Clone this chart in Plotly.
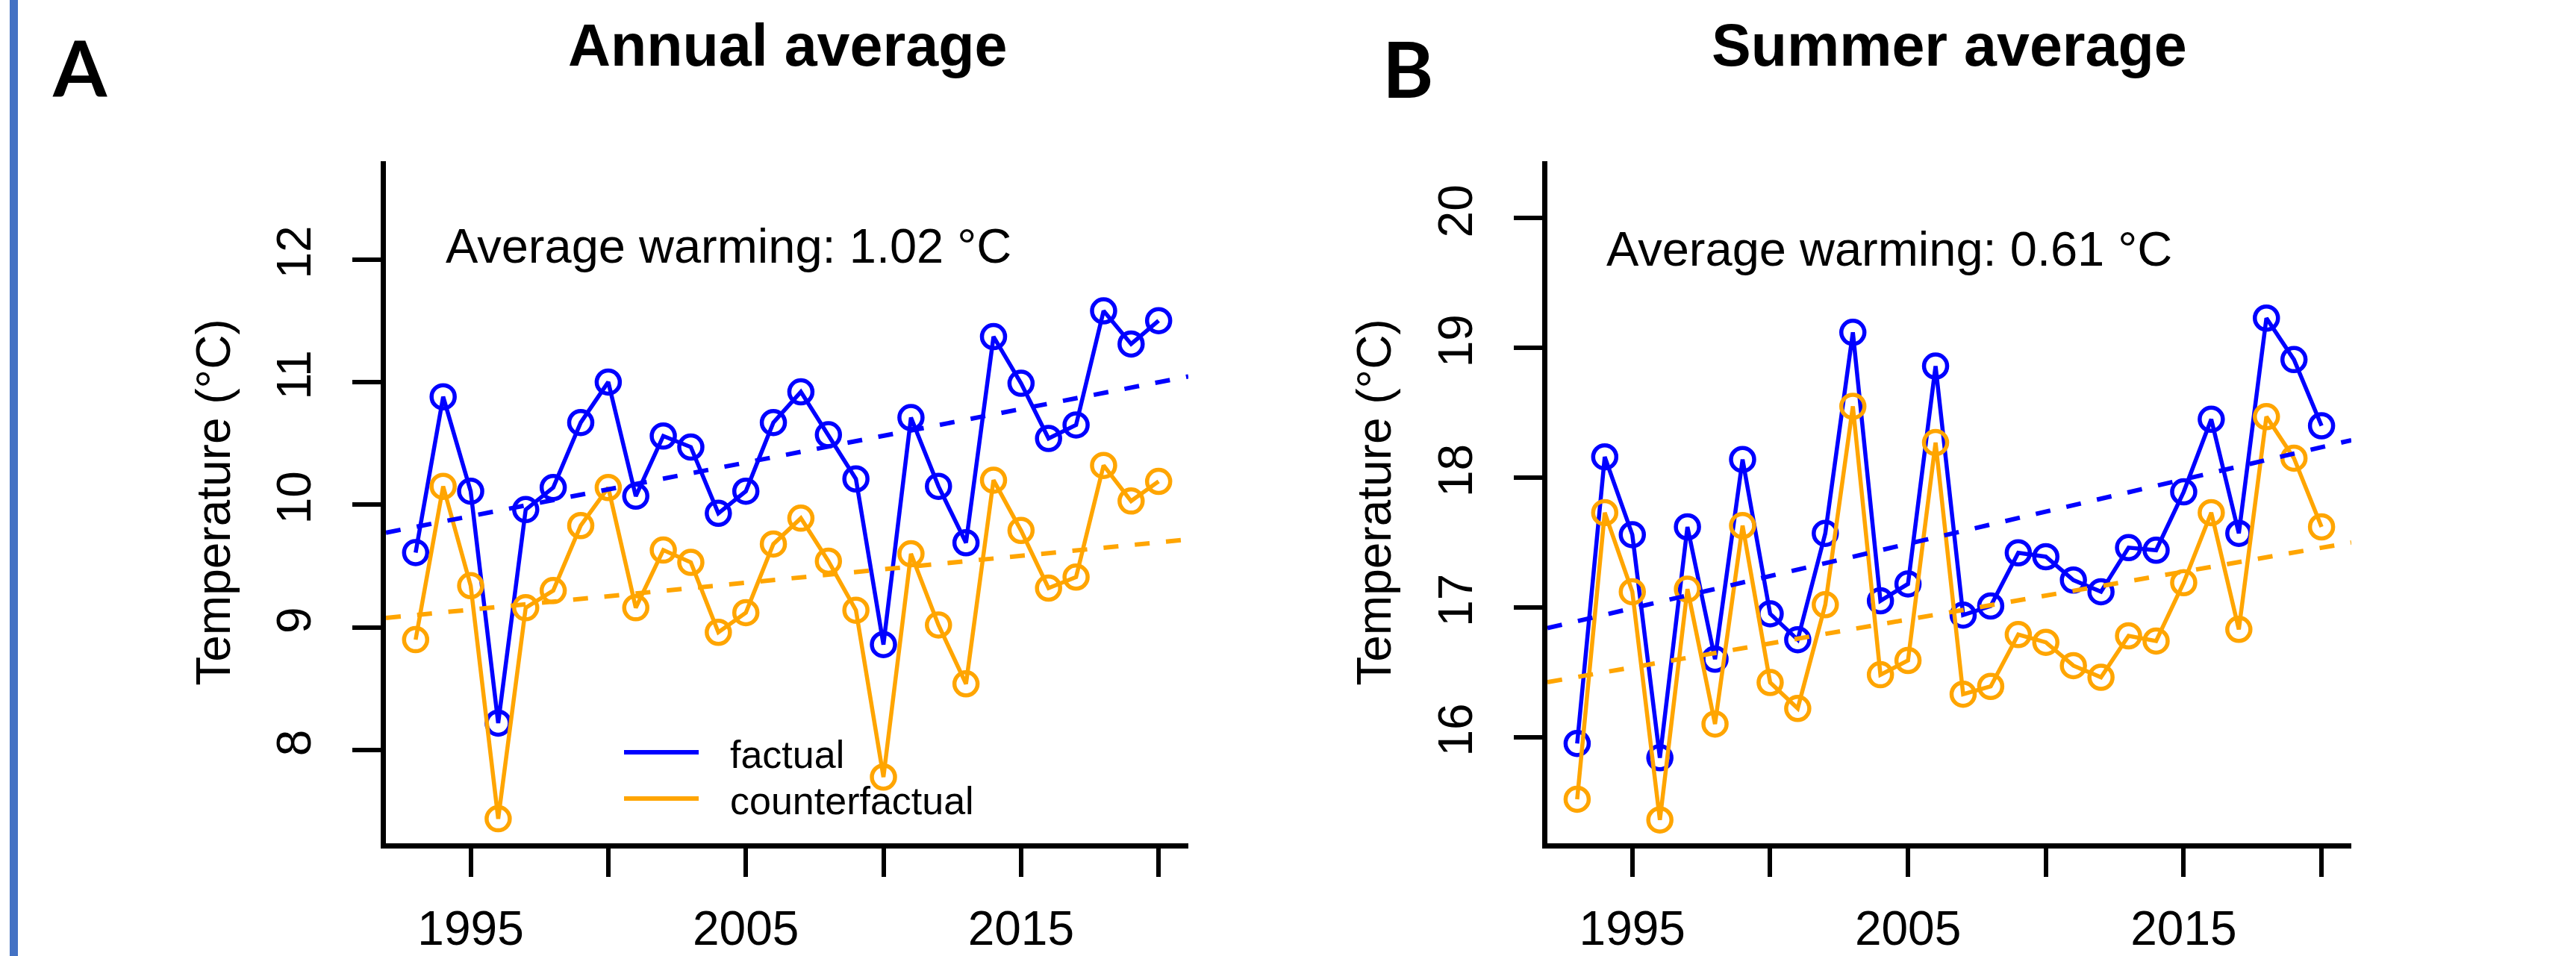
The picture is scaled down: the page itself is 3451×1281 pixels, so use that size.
import numpy as np
import plotly.graph_objects as go

W, H = 3451, 1281

years = list(range(1993, 2021))

annual_factual = [9.61, 10.88, 10.11, 8.22, 9.96, 10.14, 10.67, 11.00, 10.07, 10.56,
                  10.47, 9.93, 10.11, 10.67, 10.92, 10.57, 10.21, 8.86, 10.71, 10.15,
                  9.69, 11.37, 10.99, 10.54, 10.65, 11.58, 11.31, 11.50]
annual_counterfactual = [8.90, 10.15, 9.34, 7.44, 9.16, 9.30, 9.83, 10.14, 9.16, 9.63,
                         9.53, 8.96, 9.12, 9.68, 9.89, 9.54, 9.14, 7.78, 9.60, 9.02,
                         8.54, 10.20, 9.79, 9.32, 9.41, 10.32, 10.03, 10.19]

summer_factual = [15.95, 18.16, 17.56, 15.84, 17.62, 16.60, 18.14, 16.95, 16.75, 17.57,
                  19.12, 17.05, 17.18, 18.86, 16.94, 17.01, 17.42, 17.39, 17.21, 17.12,
                  17.46, 17.44, 17.89, 18.45, 17.57, 19.23, 18.91, 18.40]
summer_counterfactual = [15.52, 17.73, 17.12, 15.36, 17.14, 16.10, 17.63, 16.42, 16.22, 17.02,
                         18.55, 16.48, 16.59, 18.27, 16.33, 16.39, 16.79, 16.73, 16.55, 16.46,
                         16.78, 16.74, 17.19, 17.73, 16.83, 18.47, 18.15, 17.62]

panel_titles = ["Annual average", "Summer average"]
panel_letters = ["A", "B"]
warming_labels = ["Average warming: 1.02 °C", "Average warming: 0.61 °C"]
series_names = ["factual", "counterfactual"]
x_tickvals = [1995, 2000, 2005, 2010, 2015, 2020]
x_ticktext = ["1995", "", "2005", "", "2015", ""]
y_tickvals_a = [8, 9, 10, 11, 12]
y_tickvals_b = [16, 17, 18, 19, 20]

BLUE = "#0000FF"
ORANGE = "#FFA500"
FONT = "Liberation Sans, Arial, sans-serif"

x_range = [1991.92, 2021.08]
y_range_a = [7.24, 12.80]
y_range_b = [15.18, 20.44]

def px(x):
    return x / W

def py(y):
    return 1 - y / H

fig = go.Figure()

panels = [
    ("x", "y", annual_factual, annual_counterfactual),
    ("x2", "y2", summer_factual, summer_counterfactual),
]

for xa, ya, fact, cf in panels:
    for vals, col, name in [(fact, BLUE, series_names[0]), (cf, ORANGE, series_names[1])]:
        fig.add_trace(go.Scatter(
            x=years, y=vals, mode="lines+markers", name=name, xaxis=xa, yaxis=ya,
            line=dict(color=col, width=5.5),
            marker=dict(symbol="circle-open", size=31, color=col, line=dict(width=5.5, color=col)),
            showlegend=False,
        ))
    for vals, col in [(fact, BLUE), (cf, ORANGE)]:
        slope, icpt = np.polyfit(years, vals, 1)
        xs = np.array(x_range)
        fig.add_trace(go.Scatter(
            x=xs, y=icpt + slope * xs, mode="lines", xaxis=xa, yaxis=ya,
            line=dict(color=col, width=6, dash="20px,22px"),
            showlegend=False, hoverinfo="skip",
        ))

dom_y = [py(1130), py(216)]
axis_common = dict(
    showline=True, linewidth=7, linecolor="black", mirror=False,
    ticks="outside", ticklen=38, tickwidth=6, tickcolor="black",
    showgrid=False, zeroline=False, automargin=False,
    tickfont=dict(family=FONT, size=64, color="black"),
)
ytitle = dict(text="Temperature (°C)", standoff=32,
              font=dict(family=FONT, size=64, color="black"))

fig.update_layout(
    template="none",
    width=W, height=H,
    margin=dict(l=0, r=0, t=0, b=0, autoexpand=False),
    paper_bgcolor="white", plot_bgcolor="white",
    showlegend=False,
    xaxis=dict(domain=[px(517), px(1592)], range=x_range, tickvals=x_tickvals,
               ticktext=x_ticktext, anchor="y", ticklabelstandoff=14, **axis_common),
    yaxis=dict(domain=dom_y, range=y_range_a, tickvals=y_tickvals_a, tickangle=-90,
               anchor="x", ticklabelstandoff=30, title=ytitle, **axis_common),
    xaxis2=dict(domain=[px(2073), px(3150)], range=x_range, tickvals=x_tickvals,
                ticktext=x_ticktext, anchor="y2", ticklabelstandoff=14, **axis_common),
    yaxis2=dict(domain=dom_y, range=y_range_b, tickvals=y_tickvals_b, tickangle=-90,
                anchor="x2", ticklabelstandoff=30, title=ytitle, **axis_common),
)

annotations = []
shapes = []

# left border bar
shapes.append(dict(type="rect", xref="paper", yref="paper",
                   x0=px(13), x1=px(24), y0=0, y1=1,
                   fillcolor="#4472C4", line=dict(width=0)))

title_cx = [1055, 2611]
letter_pos = [(107, 89), (1886, 91)]
warm_pos = [(595, 329), (2150, 333)]
for i in range(2):
    annotations.append(dict(text="<b>%s</b>" % panel_titles[i], xref="paper", yref="paper",
                            x=px(title_cx[i]), y=py(60), xanchor="center", yanchor="middle",
                            showarrow=False, font=dict(family=FONT, size=79, color="black")))
    annotations.append(dict(text="<b>%s</b>" % panel_letters[i], xref="paper", yref="paper",
                            x=px(letter_pos[i][0]), y=py(letter_pos[i][1]), xanchor="center",
                            yanchor="middle", showarrow=False,
                            font=dict(family="Lato, sans-serif", size=104, color="black")))
    annotations.append(dict(text=warming_labels[i], xref="paper", yref="paper",
                            x=px(warm_pos[i][0]), y=py(warm_pos[i][1]), xanchor="left",
                            yanchor="middle", showarrow=False,
                            font=dict(family=FONT, size=65, color="black")))

# legend (panel A)
for name, col, yy in [(series_names[0], BLUE, 1008), (series_names[1], ORANGE, 1070)]:
    shapes.append(dict(type="line", xref="paper", yref="paper",
                       x0=px(836), x1=px(936), y0=py(yy), y1=py(yy),
                       line=dict(color=col, width=6)))
    annotations.append(dict(text=name, xref="paper", yref="paper",
                            x=px(976), y=py(yy + 3), xanchor="left", yanchor="middle",
                            showarrow=False, font=dict(family=FONT, size=52, color="black")))

fig.update_layout(annotations=annotations, shapes=shapes)

fig.write_html("out.html", config={"displayModeBar": False},
               post_script="document.body.style.margin='0';document.body.style.overflow='hidden';")
